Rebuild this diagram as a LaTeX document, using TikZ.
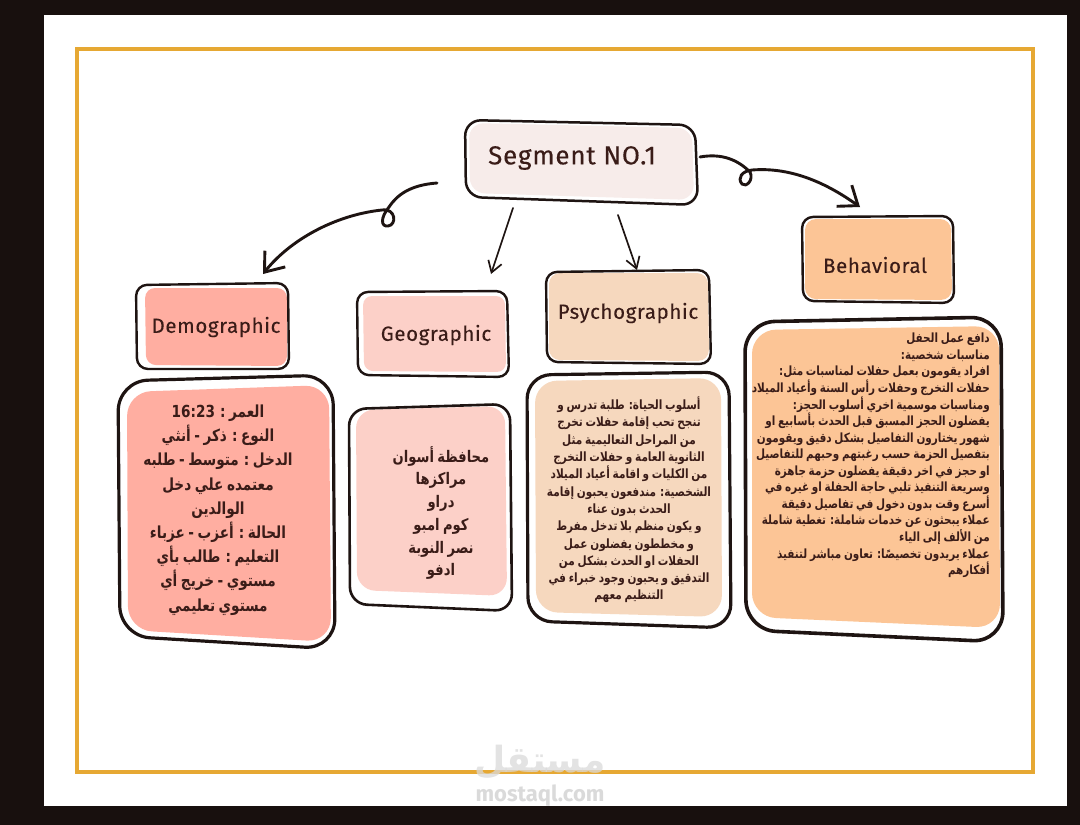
\documentclass[tikz,border=0pt]{standalone}
\usepackage{fontspec}
\usetikzlibrary{arrows.meta,calc}
\TeXXeTstate=1
\setmainfont{Fira Sans}
\newfontfamily\arabicfont[Script=Arabic,FakeStretch=0.82,WordSpace=0.75]{DejaVu Sans}
\newfontfamily\markfont[Script=Arabic]{DejaVu Sans}
\newfontfamily\handfont[LetterSpace=3,FakeBold=0.25]{Fira Sans}
\definecolor{inkc}{HTML}{1E1412}
\definecolor{txtc}{HTML}{3A1C18}
\definecolor{goldc}{HTML}{E6A833}
\definecolor{segc}{HTML}{F7ECEA}
\definecolor{democ}{HTML}{FFAEA1}
\definecolor{geoc}{HTML}{FCD0C8}
\definecolor{psyc}{HTML}{F6D8BE}
\definecolor{behc}{HTML}{FCC596}
\definecolor{wmc}{HTML}{DADADA}
\newcommand{\rl}[1]{\beginR #1\endR\\}
\newcommand{\rlast}[1]{\beginR #1\endR}
\newcommand{\sketchline}[6]{\draw[inkc,line width=#1,rounded corners=#2,line join=round] #3 -- #4 -- #5 -- #6 -- cycle;}
\newcommand{\sketchfill}[6]{\fill[#1,rounded corners=#2] #3 -- #4 -- #5 -- #6 -- cycle;}
\tikzset{
  x=1pt,y=-1pt,
  headlabel/.style={font=\handfont\fontsize{20.5}{24}\selectfont,text=txtc,inner sep=0pt},
  bodytext/.style={text=txtc,inner sep=0pt,align=center},
  link/.style={inkc,line width=1.7pt,line cap=round,-{Straight Barb[length=11pt,width=14pt,line width=1.7pt]}},
  bigLink/.style={inkc,line width=2.9pt,line cap=round,-{Straight Barb[length=17pt,width=26pt,line width=2.9pt]}}
}
\begin{document}
\begin{tikzpicture}
\useasboundingbox (0,0) rectangle (1080,825);
\fill[inkc!80!black] (0,0) rectangle (1080,825);
\fill[white] (44,15) rectangle (1067,806);
\draw[goldc,line width=3.6pt] (77,49) rectangle (1033,772);

% panels
\sketchfill{segc}{15pt}{(469,123)}{(692,128)}{(694,200)}{(470,193)}
\sketchfill{behc}{11pt}{(805,219)}{(951,219)}{(952,300)}{(805,299)}
\sketchfill{democ}{10pt}{(145,288)}{(287,288)}{(287,366)}{(146,365)}
\sketchfill{geoc}{9pt}{(363,296)}{(505,296)}{(506,372)}{(364,371)}
\sketchfill{psyc}{11pt}{(549,273)}{(708,273)}{(709,361)}{(549,360)}
\sketchfill{democ}{24pt}{(127,392)}{(329,385)}{(331,642)}{(128,630)}
\sketchfill{geoc}{18pt}{(356,410)}{(505,406)}{(507,596)}{(357,590)}
\sketchfill{psyc}{22pt}{(535,381)}{(721,378)}{(722,617)}{(536,612)}
\sketchfill{behc}{24pt}{(752,330)}{(999,326)}{(1000,628)}{(752,617)}

% outlines
\sketchline{2.5pt}{16pt}{(465,120)}{(695,125)}{(698,205)}{(466,197)}
\sketchline{2.4pt}{11pt}{(802,217)}{(953,216)}{(954,303)}{(803,301)}
\sketchline{2.4pt}{11pt}{(136,285)}{(288,283)}{(289,369)}{(137,369)}
\sketchline{2.4pt}{11pt}{(357,292)}{(507,291)}{(509,377)}{(358,375)}
\sketchline{2.4pt}{11pt}{(546,272)}{(709,270)}{(711,364)}{(547,362)}
\sketchline{3.2pt}{30pt}{(118,381)}{(333,375)}{(335,649)}{(120,636)}
\sketchline{2.6pt}{17pt}{(349,409)}{(510,404)}{(512,611)}{(350,604)}
\sketchline{3.2pt}{24pt}{(527,375)}{(729,372)}{(731,628)}{(528,621)}
\sketchline{3.6pt}{30pt}{(745,322)}{(1001,317)}{(1003,642)}{(746,630)}

% labels
\node[headlabel,font=\handfont\fontsize{26}{28}\selectfont] (seg) at (572,158) {Segment NO.1};
\node[headlabel] (demoH) at (216,327) {Demographic};
\node[headlabel] (geoH) at (436,335) {Geographic};
\node[headlabel] (psyH) at (628,313) {Psychographic};
\node[headlabel] (behH) at (875,265) {Behavioral};

% body text
\node[bodytext,font=\arabicfont\bfseries\fontsize{16.6}{24.2}\selectfont] (demoT) at (218,510) {%
\rl{العمر : \beginL 16:23\endL}
\rl{النوع : ذكر - أنثي}
\rl{الدخل : متوسط - طلبه}
\rl{معتمده علي دخل}
\rl{الوالدين}
\rl{الحالة : أعزب - عزباء}
\rl{التعليم : طالب بأي}
\rl{مستوي - خريج أي}
\rlast{مستوي تعليمي}};
\node[bodytext,font=\arabicfont\bfseries\fontsize{16}{22.7}\selectfont] (geoT) at (441,513) {%
\rl{محافظة أسوان}
\rl{مراكزها}
\rl{دراو}
\rl{كوم امبو}
\rl{نصر النوبة}
\rlast{ادفو}};
\node[bodytext,font=\arabicfont\bfseries\fontsize{12.8}{17.3}\selectfont] (psyT) at (629,500) {%
\rl{أسلوب الحياة: طلبة تدرس و}
\rl{تنجح تحب إقامة حفلات تخرج}
\rl{من المراحل التعاليمية مثل}
\rl{الثانوية العامة و حفلات التخرج}
\rl{من الكليات و اقامة أعياد الميلاد}
\rl{الشخصية: مندفعون يحبون إقامة}
\rl{الحدث بدون عناء}
\rl{و يكون منظم بلا تدخل مفرط}
\rl{و مخططون يفضلون عمل}
\rl{الحفلات او الحدث بشكل من}
\rl{التدقيق و يحبون وجود خبراء في}
\rlast{التنظيم معهم}};
\node[bodytext,align=right,anchor=north east,font=\arabicfont\bfseries\fontsize{12.7}{16.55}\selectfont] (behT) at (990,333) {%
\rl{دافع عمل الحفل}
\rl{مناسبات شخصية:}
\rl{افراد يقومون بعمل حفلات لمناسبات مثل:}
\rl{حفلات التخرج وحفلات رأس السنة وأعياد الميلاد}
\rl{ومناسبات موسمية اخري أسلوب الحجز:}
\rl{يفضلون الحجز المسبق قبل الحدث بأسابيع او}
\rl{شهور يختارون التفاصيل بشكل دقيق ويقومون}
\rl{بتفصيل الحزمة حسب رغبتهم وحبهم للتفاصيل}
\rl{او حجز في اخر دقيقة يفضلون حزمة جاهزة}
\rl{وسريعة التنفيذ تلبي حاجة الحفلة او غيره في}
\rl{أسرع وقت بدون دخول في تفاصيل دقيقة}
\rl{عملاء يبحثون عن خدمات شاملة: تغطية شاملة}
\rl{من الألف إلى الياء}
\rl{عملاء يريدون تخصيصًا: تعاون مباشر لتنفيذ}
\rlast{أفكارهم}};

% connectors
\coordinate (segL) at ($(seg.center)+(-135,25)$);
\coordinate (segG) at ($(seg.center)+(-59,50)$);
\coordinate (segP) at ($(seg.center)+(46,57)$);
\coordinate (segR) at ($(seg.center)+(128,-1)$);
\coordinate (demoIn) at ($(demoH.center)+(47,-53)$);
\coordinate (geoIn) at ($(geoH.center)+(55,-61)$);
\coordinate (psyIn) at ($(psyH.center)+(9,-43)$);
\coordinate (behIn) at ($(behH.center)+(-15,-58)$);
\draw[bigLink] (segL) .. controls (410,185) and (397,195) .. (389,207)
  .. controls (380,218) and (381,227) .. (388,226)
  .. controls (397,225) and (396,208) .. (382,210)
  .. controls (335,215) and (290,240) .. (demoIn);
\draw[link] (segG) -- (geoIn);
\draw[link] (segP) -- (psyIn);
\draw[bigLink] (segR) .. controls (722,153) and (738,160) .. (750,172)
  .. controls (754,180) and (746,188) .. (742,184)
  .. controls (737,178) and (742,171) .. (752,170)
  .. controls (790,167) and (825,182) .. (behIn);

% watermark
\node[inner sep=0pt,text=wmc,opacity=.75,font=\markfont\bfseries\fontsize{36}{40}\selectfont] (wmA) at (540,762) {\beginR مستقل\endR};
\node[inner sep=0pt,text=wmc,font=\fontsize{22}{24}\selectfont\bfseries] (wmB) at (540,796) {mostaql.com};
\end{tikzpicture}
\end{document}
